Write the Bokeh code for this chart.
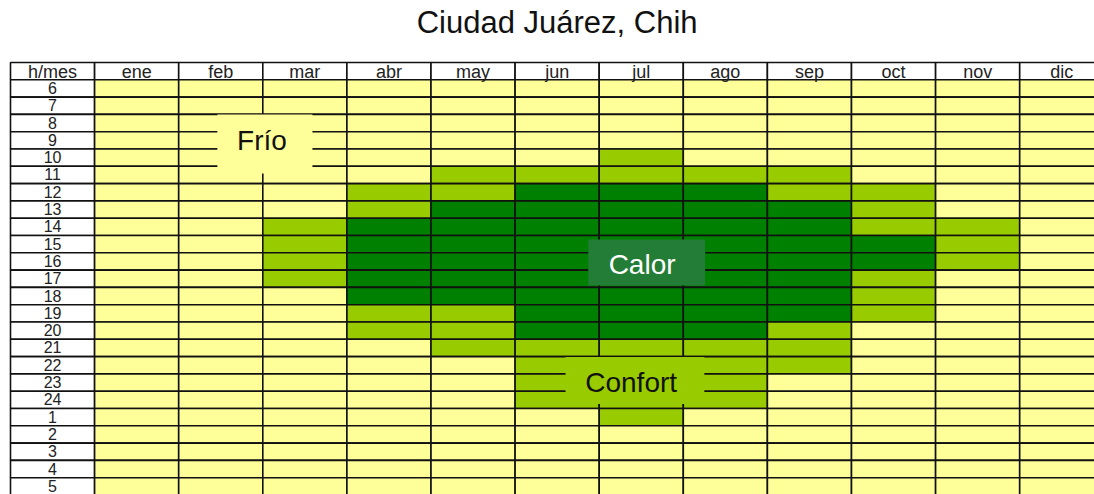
from bokeh.plotting import figure
from bokeh.models import Range1d, ColumnDataSource
from bokeh.embed import file_html
from bokeh.resources import INLINE
from bokeh.core.properties import value

# ---------------- data ----------------
title_text = "Ciudad Juárez, Chih"
corner_label = "h/mes"
months = ["ene", "feb", "mar", "abr", "may", "jun", "jul", "ago", "sep", "oct", "nov", "dic"]
hours = ["6", "7", "8", "9", "10", "11", "12", "13", "14", "15", "16", "17",
         "18", "19", "20", "21", "22", "23", "24", "1", "2", "3", "4", "5"]
categories = ["Frío", "Confort", "Calor"]

# category per hour (order of `hours`): 0 = Frío, 1 = Confort, 2 = Calor
ene = [0, 0, 0, 0, 0, 0, 0, 0, 0, 0, 0, 0, 0, 0, 0, 0, 0, 0, 0, 0, 0, 0, 0, 0]
feb = [0, 0, 0, 0, 0, 0, 0, 0, 0, 0, 0, 0, 0, 0, 0, 0, 0, 0, 0, 0, 0, 0, 0, 0]
mar = [0, 0, 0, 0, 0, 0, 0, 0, 1, 1, 1, 1, 0, 0, 0, 0, 0, 0, 0, 0, 0, 0, 0, 0]
abr = [0, 0, 0, 0, 0, 0, 1, 1, 2, 2, 2, 2, 2, 1, 1, 0, 0, 0, 0, 0, 0, 0, 0, 0]
may = [0, 0, 0, 0, 0, 1, 1, 2, 2, 2, 2, 2, 2, 1, 1, 1, 0, 0, 0, 0, 0, 0, 0, 0]
jun = [0, 0, 0, 0, 0, 1, 2, 2, 2, 2, 2, 2, 2, 2, 2, 1, 1, 1, 1, 0, 0, 0, 0, 0]
jul = [0, 0, 0, 0, 1, 1, 2, 2, 2, 2, 2, 2, 2, 2, 2, 1, 1, 1, 1, 1, 0, 0, 0, 0]
ago = [0, 0, 0, 0, 0, 1, 2, 2, 2, 2, 2, 2, 2, 2, 2, 1, 1, 1, 1, 0, 0, 0, 0, 0]
sep = [0, 0, 0, 0, 0, 1, 1, 2, 2, 2, 2, 2, 2, 2, 1, 1, 1, 0, 0, 0, 0, 0, 0, 0]
oct_ = [0, 0, 0, 0, 0, 0, 1, 1, 1, 2, 2, 1, 1, 1, 0, 0, 0, 0, 0, 0, 0, 0, 0, 0]
nov = [0, 0, 0, 0, 0, 0, 0, 0, 1, 1, 1, 0, 0, 0, 0, 0, 0, 0, 0, 0, 0, 0, 0, 0]
dic = [0, 0, 0, 0, 0, 0, 0, 0, 0, 0, 0, 0, 0, 0, 0, 0, 0, 0, 0, 0, 0, 0, 0, 0]
month_values = [ene, feb, mar, abr, may, jun, jul, ago, sep, oct_, nov, dic]

# ---------------- styles / layout ----------------
cat_colors = ["#FFFF99", "#99CC00", "#008000"]
box_colors = ["#FFFF99", "#99CC00", "#237D37"]
box_text_colors = ["#111111", "#111111", "#FFFFFF"]
# label boxes (left, right, top, bottom, text x, text y) in grid units
box_layout = {
    "Frío":    (2.46, 3.59, 3.01, 6.42, 2.99, 4.52),
    "Calor":   (6.87, 8.26, 10.23, 12.89, 7.51, 11.66),
    "Confort": (6.60, 8.25, 17.02, 19.74, 7.38, 18.48),
}
FONT = "Liberation Sans"
W, H = 1094, 494
col_px, row_px = 84.1, 17.3
grid_left_px, grid_top_px = 10, 62     # position of grid corner inside the canvas

x0 = -grid_left_px / col_px
y_top = -grid_top_px / row_px
p = figure(width=W, height=H, output_backend="svg", toolbar_location=None,
           x_range=Range1d(x0, x0 + W / col_px),
           y_range=Range1d(y_top + H / row_px, y_top),
           min_border=0, outline_line_color=None)
p.axis.visible = False
p.grid.visible = False
p.background_fill_color = "white"
p.border_fill_color = "white"

# ---- cells ----
left, right, top, bottom, fill = [], [], [], [], []
# header row
for c in range(len(months) + 1):
    left.append(c); right.append(c + 1); top.append(0); bottom.append(1); fill.append("#FFFFFF")
# hour column
for r in range(len(hours)):
    left.append(0); right.append(1); top.append(r + 1); bottom.append(r + 2); fill.append("#FFFFFF")
# data cells
for c, vals in enumerate(month_values):
    for r, v in enumerate(vals):
        left.append(c + 1); right.append(c + 2); top.append(r + 1); bottom.append(r + 2)
        fill.append(cat_colors[v])
src = ColumnDataSource(dict(left=left, right=right, top=top, bottom=bottom, fill=fill))
p.quad(left="left", right="right", top="top", bottom="bottom", fill_color="fill",
       line_color="#111111", line_width=1.6, source=src)

# ---- header texts ----
hx = [0.5] + [c + 1.5 for c in range(len(months))]
htxt = [corner_label] + months
p.text(x=hx, y=[0.56] * len(hx), text=htxt, text_font=value(FONT), text_font_size="18px",
       text_align="center", text_baseline="middle", text_color="#222222")
p.text(x=[0.5] * len(hours), y=[r + 1.47 for r in range(len(hours))], text=hours,
       text_font=value(FONT), text_font_size="16px", text_align="center",
       text_baseline="middle", text_color="#222222")

# ---- label boxes ----
for i, name in enumerate(categories):
    l, r_, t, b, tx, ty = box_layout[name]
    p.quad(left=[l], right=[r_], top=[t], bottom=[b], fill_color=box_colors[i], line_color=None)
    p.text(x=[tx], y=[ty], text=[name], text_font=value(FONT), text_font_size="28px",
           text_align="center", text_baseline="middle", text_color=box_text_colors[i])

# ---- title ----
p.text(x=[(len(months) + 1) / 2], y=[-2.31], text=[title_text], text_font=value(FONT),
       text_font_size="31px", text_align="center", text_baseline="middle", text_color="#111111")

open("out.html", "w").write(file_html(p, INLINE))
